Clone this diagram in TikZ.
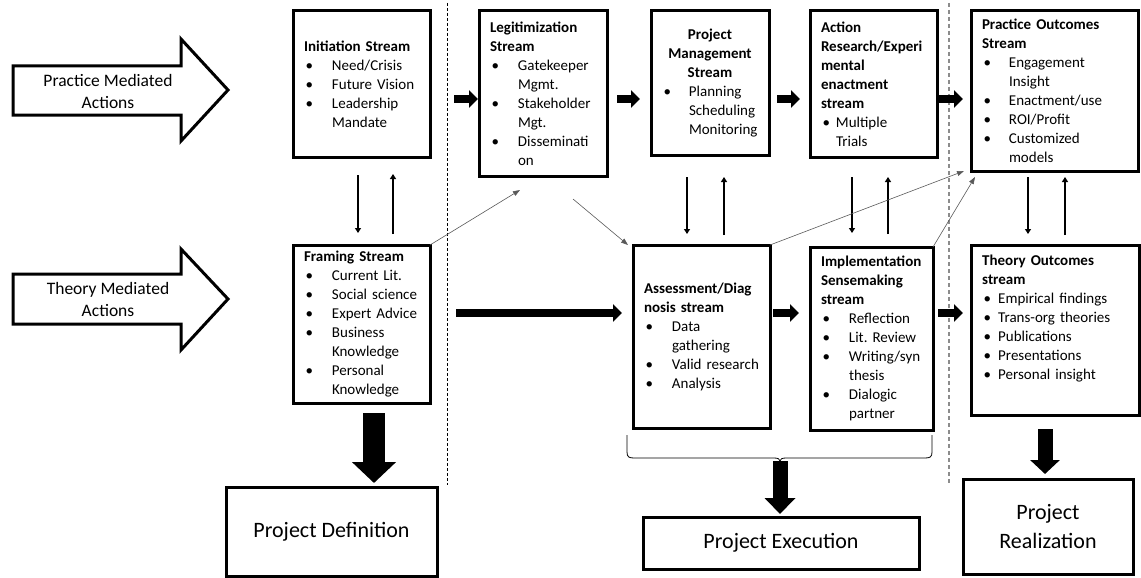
\documentclass[tikz,border=0pt]{standalone}
\usepackage{fontspec}
\setmainfont{Carlito}
\usetikzlibrary{arrows.meta,calc}
\frenchspacing
% bullet line, continuation line and bold title line inside a stream box
\newcommand\bl[2][28pt]{\makebox[#1][l]{\hspace{1.5pt}\textbullet}\mbox{#2}}
\newcommand\cl[2][28pt]{\hspace*{#1}\mbox{#2}}
\newcommand\ttl[1]{\mbox{\textbf{#1}}}
\begin{document}
\begin{tikzpicture}[x=1pt,y=-1pt,
  stream/.style={draw, line width=3pt, outer sep=0pt, anchor=north west,
    inner xsep=11pt, inner ysep=0pt, align=left, font=\fontsize{15}{19}\selectfont},
  result/.style={draw, line width=3pt, outer sep=0pt, anchor=north west,
    inner sep=0pt, align=center, font=\fontsize{22}{29}\selectfont},
  hollow/.style={draw, line width=3pt, miter limit=10},
  armlabel/.style={align=center, inner sep=0pt, font=\fontsize{17.5}{22}\selectfont},
  flow/.style={line width=8pt, -{Triangle[length=9pt,width=17pt]}},
  link/.style={line width=2pt, -{Triangle[length=5pt,width=6pt]}},
  cross/.style={black!65, line width=0.6pt, -{Triangle[length=7pt,width=5pt]}},
  drop/.style={line width=#1}
]
\useasboundingbox (0,0) rectangle (1141,578);

% phase separators
\draw[line width=0.9pt, dash pattern=on 3pt off 2pt] (447,3) -- (447,485);
\draw[black!45, line width=1.2pt, dash pattern=on 4pt off 3pt] (949,3) -- (949,483);

% mediated-action arrows
\draw[hollow] (13,66) -- (181,66) -- (181,39) -- (228,90) -- (181,141) -- (181,115) -- (13,115) -- cycle;
\node[armlabel] (pmaText) at (108,91) {Practice Mediated\\Actions};
\draw[hollow] (13,274) -- (181,274) -- (181,249) -- (228,299) -- (181,350) -- (181,324) -- (13,324) -- cycle;
\node[armlabel] (tmaText) at (108,299) {Theory Mediated\\Actions};

% practice streams
\node[stream, minimum width=137pt, minimum height=146pt, text width=115pt] (init) at (293,11)
  {\ttl{Initiation Stream}\\
   \bl{Need/Crisis}\\
   \bl{Future Vision}\\
   \bl{Leadership}\\
   \cl{Mandate}};
\node[stream, minimum width=128pt, minimum height=165pt, text width=106pt] (legit) at (479,11)
  {\ttl{Legitimization}\\
   \ttl{Stream}\\
   \bl{Gatekeeper}\\
   \cl{Mgmt.}\\
   \bl{Stakeholder}\\
   \cl{Mgt.}\\
   \bl{Disseminati}\\
   \cl{on}};
\node[stream, minimum width=118pt, minimum height=144pt, text width=96pt] (pm) at (651,11)
  {\makebox[96pt]{\textbf{Project}}\\
   \makebox[96pt]{\textbf{Management}}\\
   \makebox[96pt]{\textbf{Stream}}\\
   \bl[27pt]{Planning}\\
   \cl[27pt]{Scheduling}\\
   \cl[27pt]{Monitoring}};
\node[stream, minimum width=127pt, minimum height=146pt, text width=105pt] (ar) at (810,11)
  {\ttl{Action}\\
   \ttl{Research/Experi}\\
   \ttl{mental}\\
   \ttl{enactment}\\
   \ttl{stream}\\
   \bl[15pt]{Multiple}\\
   \cl[15pt]{Trials}};
\node[stream, minimum width=167pt, minimum height=160pt, text width=145pt] (po) at (971,11)
  {\ttl{Practice Outcomes}\\
   \ttl{Stream}\\
   \bl[27pt]{Engagement}\\
   \cl[27pt]{Insight}\\
   \bl[27pt]{Enactment/use}\\
   \bl[27pt]{ROI/Profit}\\
   \bl[27pt]{Customized}\\
   \cl[27pt]{models}};

% theory streams
\node[stream, minimum width=137pt, minimum height=158pt, text width=115pt] (frame) at (293,245)
  {\ttl{Framing Stream}\\
   \bl{Current Lit.}\\
   \bl{Social science}\\
   \bl{Expert Advice}\\
   \bl{Business}\\
   \cl{Knowledge}\\
   \bl{Personal}\\
   \cl{Knowledge}};
\node[stream, minimum width=137pt, minimum height=183pt, text width=115pt] (assess) at (633,245)
  {\ttl{Assessment/Diag}\\
   \ttl{nosis stream}\\
   \bl{Data}\\
   \cl{gathering}\\
   \bl{Valid research}\\
   \bl{Analysis}};
\node[stream, minimum width=123pt, minimum height=183pt, text width=101pt] (impl) at (810,247)
  {\ttl{Implementation}\\
   \ttl{Sensemaking}\\
   \ttl{stream}\\
   \bl{Reflection}\\
   \bl{Lit. Review}\\
   \bl{Writing/syn}\\
   \cl{thesis}\\
   \bl{Dialogic}\\
   \cl{partner}};
\node[stream, minimum width=168pt, minimum height=170pt] (theory) at (971,245) {};
\node[anchor=north west, inner sep=0pt, align=left, text width=146pt,
      font=\fontsize{15}{19}\selectfont] (theoryText) at ($(theory.north west)+(11,10)$)
  {\ttl{Theory Outcomes}\\
   \ttl{stream}\\
   \bl[16pt]{Empirical findings}\\
   \bl[16pt]{Trans-org theories}\\
   \bl[16pt]{Publications}\\
   \bl[16pt]{Presentations}\\
   \bl[16pt]{Personal insight}};

% project phases
\node[result, minimum width=211pt, minimum height=89pt] (pdef) at (226,487) {Project Definition};
\node[result, minimum width=276pt, minimum height=52pt] (pexec) at (643,517) {Project Execution};
\node[result, minimum width=170pt, minimum height=95pt] (preal) at (963,479) {Project\\Realization};

% forward flow along both rows
\coordinate (rowA) at (0,99);
\coordinate (rowB) at (0,313);
\draw[flow] ($(init.east |- rowA)+(24,0)$) -- ($(legit.west |- rowA)+(-1,0)$);
\draw[flow] ($(legit.east |- rowA)+(10,0)$) -- ($(pm.west |- rowA)+(-11,0)$);
\draw[flow] ($(pm.east |- rowA)+(8,0)$) -- ($(ar.west |- rowA)+(-10,0)$);
\draw[flow] ($(ar.east |- rowA)+(1,0)$) -- ($(po.west |- rowA)+(-8,0)$);
\draw[flow] ($(frame.east |- rowB)+(26,0)$) -- ($(assess.west |- rowB)+(-11,0)$);
\draw[flow] ($(assess.east |- rowB)+(3,0)$) -- ($(impl.west |- rowB)+(-11,0)$);
\draw[flow] ($(impl.east |- rowB)+(5,0)$) -- ($(theory.west |- rowB)+(-8,0)$);

% exchanges between practice and theory rows
\coordinate (vt) at (0,175);
\coordinate (vb) at (0,233);
\draw[link] ($(init.south |- vt)+(-3.5,0)$) -- ($(init.south |- vb)+(-3.5,0)$);
\draw[link] ($(init.south |- vb)+(31.5,1)$) -- ($(init.south |- vt)+(31.5,-1)$);
\draw[link] ($(pm.south |- vt)+(-23,2)$) -- ($(pm.south |- vb)+(-23,1)$);
\draw[link] ($(pm.south |- vb)+(14,2)$) -- ($(pm.south |- vt)+(14,2)$);
\draw[link] ($(ar.south |- vt)+(-21.5,2)$) -- ($(ar.south |- vb)+(-21.5,0)$);
\draw[link] ($(ar.south |- vb)+(14.5,1)$) -- ($(ar.south |- vt)+(14.5,2)$);
\draw[link] ($(po.south |- vt)+(-26.5,2)$) -- ($(po.south |- vb)+(-26.5,1)$);
\draw[link] ($(po.south |- vb)+(10.5,2)$) -- ($(po.south |- vt)+(10.5,2)$);

% cross links
\coordinate (legitIn) at (520,190);
\coordinate (legitOut) at (573,199);
\draw[cross] (frame.north east) -- (legitIn);
\draw[cross] (legitOut) -- ($(assess.north west)+(-5,0)$);
\draw[cross] (assess.north east) -- ($(po.south west)+(-7,0)$);
\draw[cross] (impl.north east) -- ($(po.south west)+(4,6)$);

% brace gathering the execution streams
\coordinate (braceTip) at (780,461);
\draw[line width=0.8pt] (627,435) -- (627,452) .. controls (627,457) and (629,458) .. (634,458)
  -- (774,458) .. controls (778,458) and (780,459) .. (braceTip)
  .. controls (780,459) and (782,458) .. (786,458) -- (925,458)
  .. controls (930,458) and (932,457) .. (932,452) -- (932,435);

% phase outputs
\draw[drop=22pt, -{Triangle[length=21pt,width=43pt]}]
  ($(frame.south)+(12.5,10)$) -- ($(frame.south |- pdef.north)+(12.5,-4)$);
\draw[drop=15pt, -{Triangle[length=16pt,width=30pt]}]
  (braceTip) -- ($(braceTip |- pexec.north)+(0,-3)$);
\draw[drop=15pt, -{Triangle[length=14pt,width=29pt]}]
  ($(theory.south)+(-10,14)$) -- ($(theory.south |- preal.north)+(-10,-5)$);
\end{tikzpicture}
\end{document}
